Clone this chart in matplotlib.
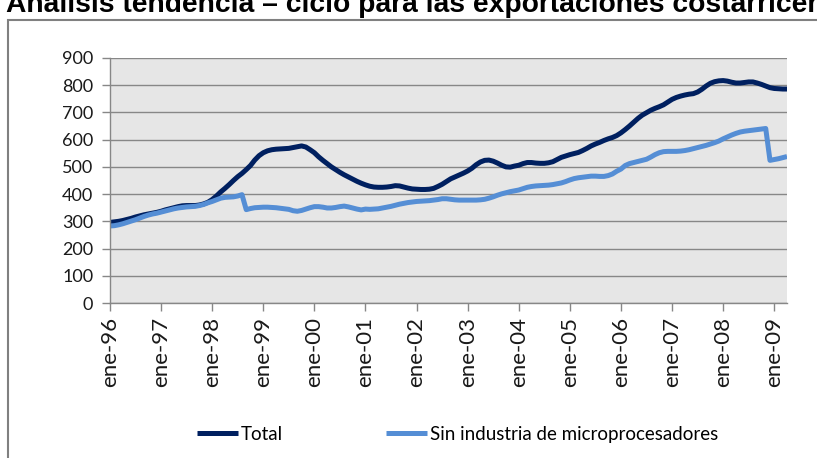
import matplotlib.pyplot as plt
from matplotlib.patches import Rectangle

# Monthly values, ene-96 .. abr-09 (160 months)
total = [
    296, 298, 300, 303, 307, 311, 316, 320, 324, 327, 330, 333,   # 1996
    337, 342, 346, 350, 354, 357, 358, 358, 358, 360, 364, 370,   # 1997
    380, 393, 408, 421, 435, 450, 464, 476, 490, 505, 525, 541,   # 1998
    552, 559, 563, 565, 566, 567, 568, 571, 574, 577, 573, 563,   # 1999
    552, 537, 524, 512, 500, 490, 480, 471, 463, 455, 447, 440,   # 2000
    434, 429, 426, 425, 425, 426, 428, 431, 430, 426, 422, 419,   # 2001
    418, 417, 417, 418, 421, 428, 436, 446, 456, 463, 470, 477,   # 2002
    485, 495, 508, 518, 524, 525, 521, 514, 506, 500, 499, 503,   # 2003
    506, 512, 516, 516, 514, 513, 513, 515, 519, 527, 535, 540,   # 2004
    545, 549, 553, 560, 568, 577, 584, 590, 597, 603, 608, 615,   # 2005
    625, 637, 650, 664, 678, 690, 699, 708, 715, 721, 728, 738,   # 2006
    748, 755, 760, 764, 767, 769, 775, 785, 797, 807, 813, 816,   # 2007
    817, 815, 811, 808, 808, 810, 812, 812, 808, 803, 797, 791,   # 2008
    788, 787, 786, 786,                                           # 2009
]
sin_micro = [
    283, 284, 287, 291, 296, 301, 306, 312, 318, 323, 327, 330,   # 1996
    334, 338, 342, 346, 349, 351, 353, 354, 355, 358, 362, 368,   # 1997
    373, 379, 385, 388, 389, 390, 393, 398, 343, 347, 350, 351,   # 1998
    352, 352, 351, 350, 348, 346, 344, 339, 337, 340, 345, 350,   # 1999
    354, 354, 352, 349, 349, 351, 354, 356, 353, 349, 345, 342,   # 2000
    345, 344, 345, 346, 349, 352, 355, 359, 363, 366, 369, 371,   # 2001
    373, 374, 375, 376, 378, 380, 383, 383, 381, 379, 378, 378,   # 2002
    378, 378, 378, 379, 381, 385, 390, 396, 401, 405, 409, 412,   # 2003
    415, 420, 425, 428, 430, 431, 432, 433, 435, 438, 441, 446,   # 2004
    452, 457, 460, 462, 464, 466, 466, 465, 465, 468, 474, 484,   # 2005
    492, 505, 512, 516, 520, 524, 528, 536, 545, 552, 556, 557,   # 2006
    557, 557, 558, 560, 563, 567, 571, 575, 579, 584, 589, 595,   # 2007
    603, 610, 617, 623, 628, 631, 633, 635, 637, 639, 641, 524,   # 2008
    527, 530, 534, 538,                                           # 2009
]
tick_labels = ["ene-96", "ene-97", "ene-98", "ene-99", "ene-00", "ene-01", "ene-02",
               "ene-03", "ene-04", "ene-05", "ene-06", "ene-07", "ene-08", "ene-09"]

fig = plt.figure(figsize=(8.17, 4.58), dpi=100)
ax = fig.add_axes([0.1346, 0.3384, 0.8287, 0.535])

months = list(range(len(total)))
ax.plot(months, total, color="#002060", lw=3.6, solid_joinstyle="round",
        solid_capstyle="butt", label="Total")
ax.plot(months, sin_micro, color="#558ED5", lw=3.6, solid_joinstyle="round",
        solid_capstyle="butt", label="Sin industria de microprocesadores")

ax.set_facecolor("#E6E6E6")
ax.set_xlim(0, len(total) - 1)
ax.set_ylim(0, 900)
ax.set_yticks(range(0, 901, 100))
ax.set_xticks(range(0, len(total), 12))
ax.set_xticklabels(tick_labels, rotation=90, fontsize=16, family="Lato")
for lbl in ax.get_yticklabels():
    lbl.set_family("Lato")
    lbl.set_fontsize(13)
ax.grid(axis="y", color="#878787", lw=1.0)
ax.set_axisbelow(True)
for s in ["top", "right"]:
    ax.spines[s].set_visible(False)
for s in ["left", "bottom"]:
    ax.spines[s].set_color("#878787")
    ax.spines[s].set_linewidth(1.0)
ax.tick_params(axis="both", colors="#878787", labelcolor="#1a1a1a", length=6, width=1.0)
ax.tick_params(axis="y", pad=6)
ax.tick_params(axis="x", pad=4)

fig.legend(loc="center", bbox_to_anchor=(0.56, 0.052), ncol=2, frameon=False,
           prop={"family": "Lato", "size": 13.5}, handlelength=2.2,
           handletextpad=0.15, columnspacing=5.5)

# outer chart frame (cut off on the right and bottom)
fig.patches.append(Rectangle((8 / 817, -0.1), 1.2, 1 - 20 / 458 + 0.1,
                             transform=fig.transFigure, fill=False,
                             edgecolor="#808080", lw=1.5))

# title, partly cut off at the top edge as in the original
fig.text(6 / 817, 1 - 12 / 458,
         "Análisis tendencia – ciclo para las exportaciones costarricenses",
         fontsize=20.3, fontweight="bold", family="Liberation Sans", va="baseline")

fig.savefig("out.png", dpi=100)
